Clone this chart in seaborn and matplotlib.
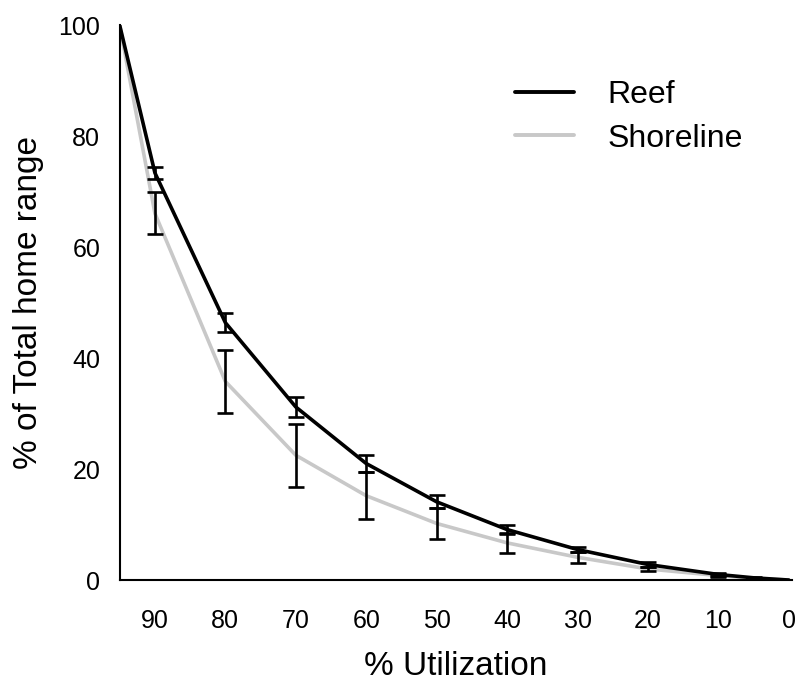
import matplotlib
matplotlib.use("Agg")
import matplotlib.pyplot as plt
import seaborn as sns
import pandas as pd
from matplotlib.lines import Line2D

utilization = [95, 90, 80, 70, 60, 50, 40, 30, 20, 10, 5, 0]
reef_mean = [100, 73.4, 46.4, 31.2, 21.0, 14.1, 9.1, 5.5, 2.8, 1.0, 0.4, 0]
reef_err = [0, 1.05, 1.75, 1.75, 1.6, 1.2, 0.75, 0.5, 0.4, 0.35, 0.15, 0]
shore_mean = [100, 66.1, 35.8, 22.5, 15.2, 10.2, 6.7, 4.1, 2.0, 0.8, 0.3, 0]
shore_err = [0, 3.8, 5.75, 5.65, 4.2, 2.75, 1.75, 0.95, 0.4, 0.2, 0.1, 0]
err_x = [90, 80, 70, 60, 50, 40, 30, 20, 10, 5]
x_ticks = [90, 80, 70, 60, 50, 40, 30, 20, 10, 0]
y_ticks = [0, 20, 40, 60, 80, 100]

sns.set_style("white")
plt.rcParams['font.family'] = ['Liberation Sans', 'DejaVu Sans']
plt.rcParams['text.color'] = 'black'
plt.rcParams['axes.labelcolor'] = 'black'
plt.rcParams['xtick.color'] = 'black'
plt.rcParams['ytick.color'] = 'black'

df = pd.DataFrame({
    "Utilization": utilization * 2,
    "Value": reef_mean + shore_mean,
    "Habitat": ["Reef"] * len(utilization) + ["Shoreline"] * len(utilization),
})

fig = plt.figure(figsize=(7.98, 6.84), dpi=100)
ax = fig.add_axes([0.150, 0.152, 0.842, 0.811])

sns.lineplot(data=df, x="Utilization", y="Value", hue="Habitat",
             palette={"Reef": "black", "Shoreline": "#c8c8c8"},
             hue_order=["Shoreline", "Reef"], linewidth=2.6, ax=ax, legend=False)

idx = [utilization.index(v) for v in err_x]
ax.errorbar([utilization[i] for i in idx], [shore_mean[i] for i in idx],
            yerr=[shore_err[i] for i in idx], fmt="none", ecolor="black",
            elinewidth=1.9, capsize=5.5, capthick=1.9, zorder=5)
ax.errorbar([utilization[i] for i in idx], [reef_mean[i] for i in idx],
            yerr=[reef_err[i] for i in idx], fmt="none", ecolor="black",
            elinewidth=1.9, capsize=5.5, capthick=1.9, zorder=5)

ax.set_xlim(95, -0.4)
ax.set_ylim(0, 100)
ax.set_xticks(x_ticks)
ax.set_yticks(y_ticks)
ax.tick_params(direction="in", length=6, width=1.5, labelsize=18)
ax.tick_params(axis="y", pad=14)
ax.tick_params(axis="x", pad=21)
for s in ["top", "right"]:
    ax.spines[s].set_visible(False)
for s in ["left", "bottom"]:
    ax.spines[s].set_linewidth(1.5)
    ax.spines[s].set_color("black")

ax.set_xlabel("% Utilization", fontsize=24, labelpad=13)
ax.set_ylabel("% of Total home range", fontsize=24, labelpad=10)

handles = [Line2D([], [], color="black", lw=2.8), Line2D([], [], color="#c8c8c8", lw=2.8)]
ax.legend(handles, ["Reef", "Shoreline"], frameon=False, fontsize=23,
          loc="upper left", bbox_to_anchor=(0.545, 0.953), handlelength=1.85,
          handletextpad=1.05, labelspacing=0.42)

fig.savefig("out.png", dpi=100)
